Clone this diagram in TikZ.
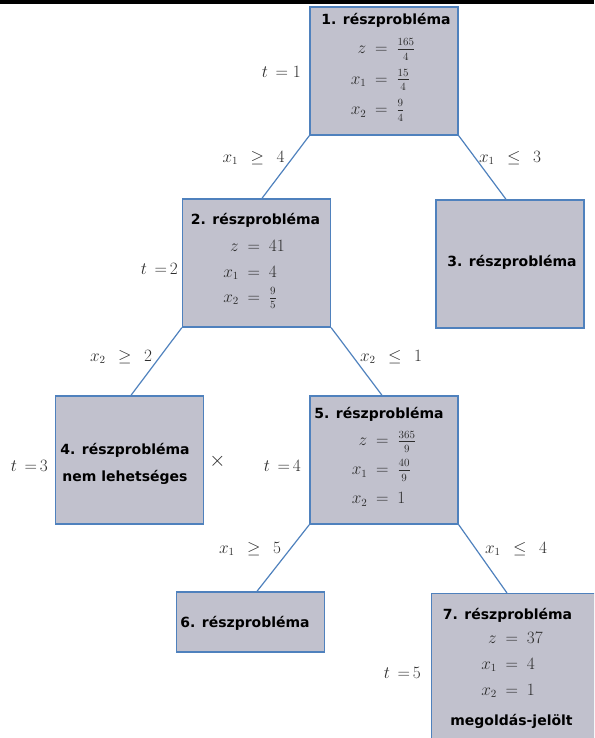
\documentclass[tikz,border=0pt]{standalone}
\usepackage{amsmath}
\usepackage{fontspec}
\setsansfont{DejaVu Sans}
\usetikzlibrary{positioning}

% small fraction with some air around the bar
\newcommand{\sfr}[2]{\tfrac{\rule[-2.6pt]{0pt}{1pt}#1}{\rule{0pt}{9.8pt}#2}}

\begin{document}
\begin{tikzpicture}[x=1pt, y=-1pt,
  rpbox/.style={draw=boxblue, fill=boxgray, line width=1.4pt, minimum width=148pt, minimum height=128pt, inner sep=0pt},
  rptitle/.style={font=\sffamily\bfseries\fontsize{14}{27}\selectfont, text=black, inner sep=0pt},
  eqblock/.style={font=\fontsize{16}{18}\selectfont, text=mathgray, inner sep=0pt},
  branch/.style={draw=boxblue, line width=1.2pt},
  lbl/.style={font=\fontsize{16}{18}\selectfont, text=mathgray, inner sep=0pt}]

% Define colors
\definecolor{boxgray}{RGB}{193, 193, 205}
\definecolor{boxblue}{RGB}{79, 129, 189}
\definecolor{mathgray}{RGB}{45, 45, 45}

\useasboundingbox (0,0) rectangle (594,738);
\clip (0,0) rectangle (594,738);

% Black strip on top
\fill[black] (0,0) rectangle (594,4);

% Draw the boxes
\node[rpbox] (p1) at (384, 71) {};
\node[rpbox] (p2) at (256.5, 263) {};
\node[rpbox] (p3) at (510, 264) {};
\node[rpbox] (p4) at (129.5, 460) {};
\node[rpbox] (p5) at (384, 460) {};
\node[rpbox, minimum height=60pt] (p6) at (250.5, 622) {};
\node[rpbox, anchor=north west, minimum width=200pt, minimum height=170pt] (p7) at (431, 593) {};

% Branches
\draw[branch] (p1.south west) -- ([xshift=5.5pt]p2.north);
\draw[branch] (p1.south east) -- ([xshift=-4pt]p3.north);
\draw[branch] (p2.south west) -- ([xshift=1.5pt]p4.north);
\draw[branch] (p2.south east) -- ([xshift=-2pt]p5.north);
\draw[branch] (p5.south west) -- ([xshift=6.5pt]p6.north);
\draw[branch] (p5.south east) -- ([xshift=76pt]p7.north west);

% Box contents
\node[rptitle] (t1) at (386, 20) {1. részprobléma};
\node[eqblock] (e1) at (383, 78) {\def\arraystretch{1.7}$\begin{array}{@{}r@{\hspace{0.55em}=\hspace{0.55em}}l@{}} z & \sfr{165}{4}\\ x_1 & \sfr{15}{4}\\ x_2 & \sfr{9}{4}\end{array}$};

\node[rptitle] (t2) at (255.5, 220) {2. részprobléma};
\node[eqblock] (e2) at (254, 272) {\def\arraystretch{1.4}$\begin{array}{@{}r@{\hspace{0.55em}=\hspace{0.55em}}l@{}} z & 41\\ x_1 & 4\\ x_2 & \sfr{9}{5}\end{array}$};

\node[rptitle] (t3) at (512, 262) {3. részprobléma};

\node[rptitle, align=center] (t4) at (125, 464) {4. részprobléma\\nem lehetséges};

\node[rptitle] (t5) at (379, 414) {5. részprobléma};
\node[eqblock] (e5) at (384, 469) {\def\arraystretch{1.6}$\begin{array}{@{}r@{\hspace{0.55em}=\hspace{0.55em}}l@{}} z & \sfr{365}{9}\\ x_1 & \sfr{40}{9}\\ x_2 & 1\end{array}$};

\node[rptitle] (t6) at (245, 623) {6. részprobléma};

\node[rptitle] (t7) at (507.5, 615) {7. részprobléma};
\node[eqblock] (e7) at (512, 664) {\def\arraystretch{1.45}$\begin{array}{@{}r@{\hspace{0.55em}=\hspace{0.55em}}l@{}} z & 37\\ x_1 & 4\\ x_2 & 1\end{array}$};
\node[rptitle] (m7) at (511.5, 721) {megoldás-jelölt};

% Steps
\node[lbl, anchor=east] (s1) at (301, 72) {$t\;\,{=}\;1$};
\node[lbl, anchor=east] (s2) at (178, 269) {$t\;\,{=}\,2$};
\node[lbl, anchor=east] (s3) at (48, 466) {$t\;\,{=}\,3$};
\node[lbl, anchor=east] (s4) at (301, 466) {$t\;\,{=}\,4$};
\node[lbl, anchor=east] (s5) at (421, 673) {$t\;\,{=}\,5$};

% Infeasible mark
\node[lbl] (nf) at (217.5, 461) {\fontsize{22}{22}\selectfont$\times$};

% Branch conditions
\node[lbl] (c12) at (253.5, 158) {$x_1\;\,\geq\;\,4$};
\node[lbl] (c13) at (510, 158) {$x_1\;\,\leq\;\,3$};
\node[lbl] (c24) at (121, 357) {$x_2\;\,\geq\;\,2$};
\node[lbl] (c25) at (391, 357) {$x_2\;\,\leq\;\,1$};
\node[lbl] (c56) at (250, 549) {$x_1\;\,\geq\;\,5$};
\node[lbl] (c57) at (516, 549) {$x_1\;\,\leq\;\,4$};

\end{tikzpicture}
\end{document}
